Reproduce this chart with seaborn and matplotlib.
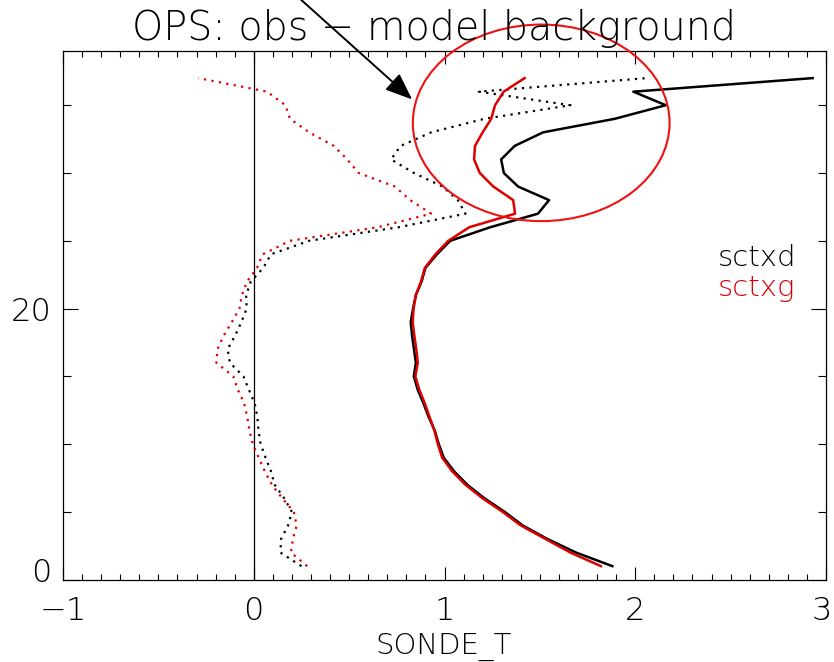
import matplotlib
matplotlib.use("Agg")
import matplotlib.pyplot as plt
import matplotlib.transforms as mtransforms
from matplotlib.patches import Ellipse
from matplotlib.ticker import MultipleLocator, FixedLocator
import seaborn as sns

# Height levels shared by every profile
levels = list(range(1, 38))

# sctxd: obs - background, RMS (solid) and mean (dotted)
sctxd_rms = [1.88, 1.69, 1.54, 1.41, 1.316, 1.21, 1.12, 1.05, 0.996, 0.97,
             0.949, 0.917, 0.89, 0.86, 0.839, 0.85, 0.84, 0.83, 0.823, 0.835,
             0.85, 0.88, 0.90, 0.96, 1.03, 1.24, 1.49, 1.548, 1.386, 1.311,
             1.297, 1.368, 1.517, 1.893, 2.16, 1.99, 2.93]
sctxd_mean = [0.25, 0.14, 0.143, 0.18, 0.20, 0.16, 0.11, 0.09, 0.062, 0.036,
              0.025, 0.019, 0.005, -0.025, -0.054, -0.125, -0.137, -0.098, -0.065, -0.037,
              -0.04, -0.015, 0.05, 0.09, 0.29, 0.76, 1.11, 1.07, 0.99, 0.84,
              0.72, 0.77, 0.93, 1.21, 1.66, 1.18, 2.06]

# sctxg: obs - background, RMS (solid) and mean (dotted)
sctxg_rms = [1.82, 1.66, 1.53, 1.40, 1.305, 1.20, 1.11, 1.04, 0.988, 0.965,
             0.947, 0.922, 0.897, 0.868, 0.847, 0.86, 0.852, 0.842, 0.833, 0.838,
             0.85, 0.877, 0.897, 0.952, 1.02, 1.13, 1.37, 1.36, 1.256, 1.185,
             1.155, 1.16, 1.20, 1.245, 1.265, 1.31, 1.42]
sctxg_mean = [0.28, 0.195, 0.205, 0.225, 0.21, 0.15, 0.095, 0.058, 0.026, -0.005,
              -0.022, -0.034, -0.05, -0.083, -0.107, -0.196, -0.19, -0.158, -0.115, -0.075,
              -0.062, -0.035, 0.017, 0.047, 0.19, 0.65, 0.93, 0.82, 0.74, 0.55,
              0.49, 0.42, 0.29, 0.19, 0.166, 0.07, -0.29]

run_names = ["sctxd", "sctxg"]
x_ticks = [-1, 0, 1, 2, 3]
y_ticks = [0, 20]

BLACK = "#000000"
RED = "#dd0000"
DOTTED = (0, (1, 2.4))
FONT = ["DejaVu Sans"]

plt.rcParams["font.family"] = FONT
plt.rcParams["font.weight"] = "light"

fig = plt.figure(figsize=(8.34, 6.62), dpi=100)
ax = fig.add_axes([63 / 834, 1 - 579.7 / 662, 763 / 834, 528.7 / 662])

# zero line
ax.axvline(0, color=BLACK, lw=0.9, zorder=1)

profiles = [
    (sctxd_mean, BLACK, DOTTED, 1.6),
    (sctxg_mean, RED, DOTTED, 1.6),
    (sctxd_rms, BLACK, "-", 1.8),
    (sctxg_rms, RED, "-", 1.8),
]
for vals, col, ls, lw in profiles:
    sns.lineplot(x=vals, y=levels, sort=False, estimator=None, color=col,
                 linestyle=ls, lw=lw, ax=ax, zorder=3)

ax.set_xlim(-1, 3)
ax.set_ylim(0, 39)
ax.xaxis.set_major_locator(FixedLocator(x_ticks))
ax.xaxis.set_minor_locator(MultipleLocator(0.1))
ax.yaxis.set_major_locator(FixedLocator(y_ticks))
ax.yaxis.set_minor_locator(MultipleLocator(5))

ax.tick_params(axis="x", which="major", direction="in", length=9.5, width=0.8,
               top=True, labelsize=23, pad=12, color=BLACK)
ax.tick_params(axis="x", which="minor", direction="in", length=4.3, width=0.8,
               top=True, color=BLACK)
ax.tick_params(axis="y", which="major", direction="in", length=11, width=0.8,
               right=True, labelsize=23, pad=8, color=BLACK)
ax.tick_params(axis="y", which="minor", direction="in", length=5.5, width=0.8,
               right=True, color=BLACK)
for sp in ax.spines.values():
    sp.set_color(BLACK)
    sp.set_linewidth(0.9)

# lift the "0" label on the height axis a little above its tick
lift = mtransforms.ScaledTranslation(0, 10 / 100, fig.dpi_scale_trans)
ylabels = ax.get_yticklabels()
ylabels[0].set_transform(ylabels[0].get_transform() + lift)

# keep the last x label inside the canvas
nudge = mtransforms.ScaledTranslation(-4 / 100, 0, fig.dpi_scale_trans)
xlabels = ax.get_xticklabels()
xlabels[-1].set_transform(xlabels[-1].get_transform() + nudge)

ax.set_ylabel("")
fig.text(444 / 834, 1 - 654 / 662, "SONDE_T", fontsize=21,
         ha="center", va="baseline")

fig.text(434 / 834, 1 - 40 / 662, "OPS: obs − model background",
         fontsize=28.5, ha="center", va="baseline")

# run names, coloured like their profiles
ax.text(0.858, 0.594, run_names[0], color=BLACK, fontsize=21,
        transform=ax.transAxes, va="baseline")
ax.text(0.858, 0.537, run_names[1], color=RED, fontsize=21,
        transform=ax.transAxes, va="baseline")

# highlight of the upper-level differences
ax.add_patch(Ellipse((1.507, 33.7), width=1.346, height=14.5, fill=False,
                     edgecolor="#ee1111", lw=1.5, clip_on=False, zorder=4))
ax.annotate("", xy=(0.83, 35.43), xytext=(0.199, 43.4),
            arrowprops=dict(arrowstyle="-|>,head_length=0.55,head_width=0.22",
                            color=BLACK, lw=1.4, mutation_scale=30,
                            shrinkA=0, shrinkB=0),
            annotation_clip=False, zorder=5)

fig.savefig("out.png", dpi=100, facecolor="white")
